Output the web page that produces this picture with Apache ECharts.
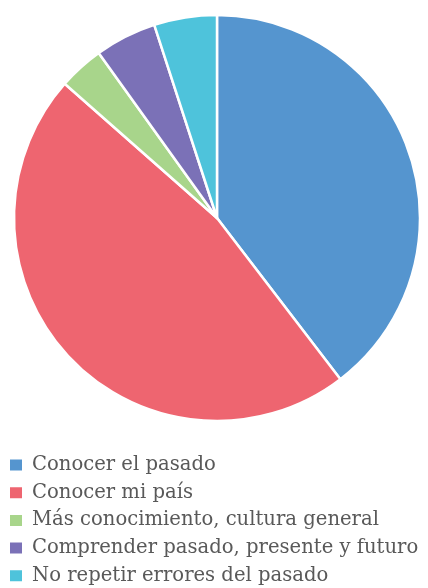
<!DOCTYPE html>
<html><head><meta charset="utf-8">
<script src="https://cdn.jsdelivr.net/npm/echarts@6/dist/echarts.min.js"></script>
<style>html,body{margin:0;padding:0;background:#fff;}#c{width:428px;height:588px;}</style>
</head><body><div id="c"></div>
<script>
const categories = ["Conocer el pasado","Conocer mi país","Más conocimiento, cultura general","Comprender pasado, presente y futuro","No repetir errores del pasado"];
const values = [39.6, 46.9, 3.6, 4.9, 5.0];
const colors = ["#5595cf","#ee6570","#a8d58b","#7b71b7","#4ec3db"];
const chart = echarts.init(document.getElementById('c'), null, {renderer:'canvas'});
chart.setOption({
  animation:false,
  color: colors,
  legend:{
    orient:'vertical', left:8, top:455, height:133, padding:0,
    icon:'rect', itemWidth:14, itemHeight:13, itemGap:7.7,
    data: categories,
    textStyle:{fontFamily:'DejaVu Serif', fontSize:19.6, color:'#595959', lineHeight:20, padding:[0,0,0,4]}
  },
  series:[{
    type:'pie', center:[217,218], radius:[0,203], startAngle:90, clockwise:true,
    label:{show:false}, labelLine:{show:false},
    itemStyle:{borderColor:'#fff', borderWidth:2.5},
    data: categories.map((n,i)=>({name:n, value:values[i]}))
  }]
});
</script></body></html>
